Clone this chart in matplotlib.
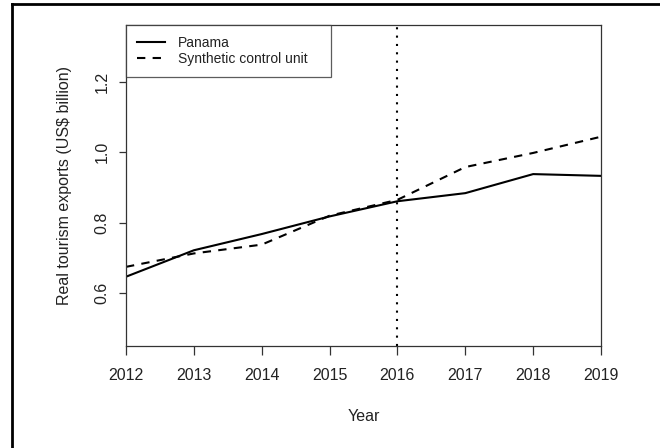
import matplotlib
matplotlib.use("Agg")
import matplotlib.pyplot as plt
from matplotlib.lines import Line2D

plt.rcParams['font.family'] = ['Liberation Sans', 'DejaVu Sans']

years = [2012, 2013, 2014, 2015, 2016, 2017, 2018, 2019]
panama = [0.647, 0.722, 0.768, 0.818, 0.861, 0.884, 0.938, 0.933]
synthetic = [0.675, 0.713, 0.738, 0.820, 0.865, 0.958, 0.998, 1.044]
treatment_year = 2016
y_ticks = [0.6, 0.8, 1.0, 1.2]
x_ticks = years

W, H = 660, 448
fig = plt.figure(figsize=(W / 100, H / 100), dpi=100)
fig.patch.set_facecolor('white')
ax = fig.add_axes([126 / W, 1 - 345.7 / H, (601 - 126) / W, (345.7 - 25) / H])

ink = '#222222'
ax.plot(years, panama, color='black', lw=1.5, solid_joinstyle='miter',
        label='Panama')
ax.plot(years, synthetic, color='black', lw=1.5, dashes=(4, 3.5),
        label='Synthetic control unit')
ax.axvline(treatment_year, color='black', lw=1.5, dashes=(1, 3))

ax.set_xlim(2012, 2019)
ax.set_ylim(0.4514, 1.3608)
ax.set_xticks(x_ticks)
ax.set_xticklabels([str(y) for y in x_ticks])
ax.set_yticks(y_ticks)
ax.set_yticklabels([f'{v:.1f}' for v in y_ticks], rotation=90, va='center')

for s in ax.spines.values():
    s.set_linewidth(0.9)
    s.set_color('#333333')
ax.tick_params(axis='x', length=6.8, width=0.9, color='#333333', pad=9,
               labelsize=11.5, labelcolor=ink)
ax.tick_params(axis='y', length=4.8, width=0.9, color='#333333', pad=7,
               labelsize=11.5, labelcolor=ink)

ax.set_xlabel('Year', fontsize=11.5, color=ink, labelpad=19)
ax.set_ylabel('Real tourism exports (US$ billion)', fontsize=11.5, color=ink,
              labelpad=16)

leg = ax.legend(loc='upper left', bbox_to_anchor=(0, 0.5, (331 - 126) / 475, 0.5),
                mode='expand', borderaxespad=0,
                fancybox=False, frameon=True, edgecolor='#333333',
                fontsize=10, handlelength=2.0, handletextpad=0.95,
                borderpad=0.8, labelspacing=0.1)
leg.get_frame().set_linewidth(0.9)
for t in leg.get_texts():
    t.set_color(ink)

# outer frame on the top and left edges
fx = 12 / W
fy = 1 - 4 / H
fig.add_artist(Line2D([fx, fx], [0, fy], transform=fig.transFigure,
                      color='black', lw=2.0, solid_capstyle='projecting'))
fig.add_artist(Line2D([fx, 1], [fy, fy], transform=fig.transFigure,
                      color='black', lw=2.0, solid_capstyle='projecting'))

fig.savefig('out.png', dpi=100)
